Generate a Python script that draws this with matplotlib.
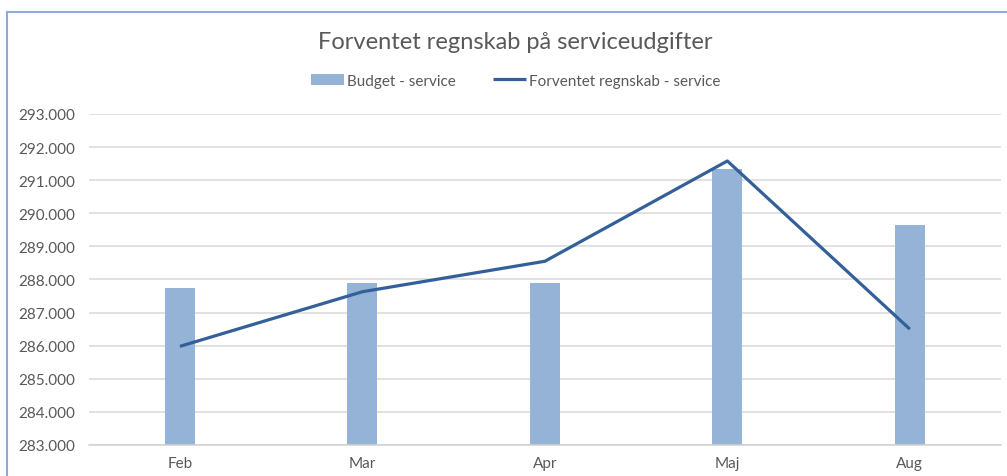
import numpy as np
import matplotlib
matplotlib.use('Agg')
import matplotlib.pyplot as plt
from matplotlib.ticker import FuncFormatter, MultipleLocator
from matplotlib.lines import Line2D

plt.rcParams['font.family'] = ['Lato', 'DejaVu Sans']

# data
months = ['Feb', 'Mar', 'Apr', 'Maj', 'Aug']
budget = [287750, 287900, 287900, 291330, 289650]
forventet = [285980, 287630, 288550, 291580, 286500]

grey = '#595959'
bar_col = '#95B3D7'
line_col = '#34609A'

fig = plt.figure(figsize=(10.07, 4.77), dpi=100)
ax = fig.add_axes([0.0881, 0.065, 0.906, 0.694])

x = np.arange(len(months))
bars = ax.bar(x, budget, width=0.165, color=bar_col, label='Budget - service', zorder=2)
line, = ax.plot(x, forventet, color=line_col, linewidth=2.3, label='Forventet regnskab - service',
                zorder=3, solid_capstyle='butt')

ax.set_xlim(-0.5, len(months) - 0.5)
ax.set_ylim(283000, 293000)
ax.yaxis.set_major_locator(MultipleLocator(1000))
ax.yaxis.set_major_formatter(FuncFormatter(lambda v, p: f'{v:,.0f}'.replace(',', '.')))
ax.set_xticks(x)
ax.set_xticklabels(months)

ax.grid(axis='y', color='#d9d9d9', linewidth=1.1, zorder=0)
ax.set_axisbelow(True)
for s in ['top', 'right', 'left']:
    ax.spines[s].set_visible(False)
ax.spines['bottom'].set_color('#d0d0d0')
ax.spines['bottom'].set_linewidth(1.1)
ax.tick_params(axis='both', length=0, colors=grey, labelsize=11)
ax.tick_params(axis='y', pad=10)
ax.tick_params(axis='x', pad=8)

fig.text(0.512, 0.91, 'Forventet regnskab på serviceudgifter', ha='center', va='center',
         fontsize=17, color=grey)
ax.legend([bars, line], ['Budget - service', 'Forventet regnskab - service'],
          loc='center', bbox_to_anchor=(0.468, 1.10), ncol=2, frameon=False,
          fontsize=11, labelcolor=grey, handlelength=2.2, handleheight=0.8,
          handletextpad=0.2, columnspacing=2.4)

# chart frame
fig.add_artist(Line2D([7 / 1007, 7 / 1007], [0, 1 - 13 / 477], color='#8EAADB', linewidth=1.5))
fig.add_artist(Line2D([7 / 1007, 1], [1 - 13 / 477, 1 - 13 / 477], color='#8EAADB', linewidth=1.5))

fig.savefig('out.png', dpi=100)
